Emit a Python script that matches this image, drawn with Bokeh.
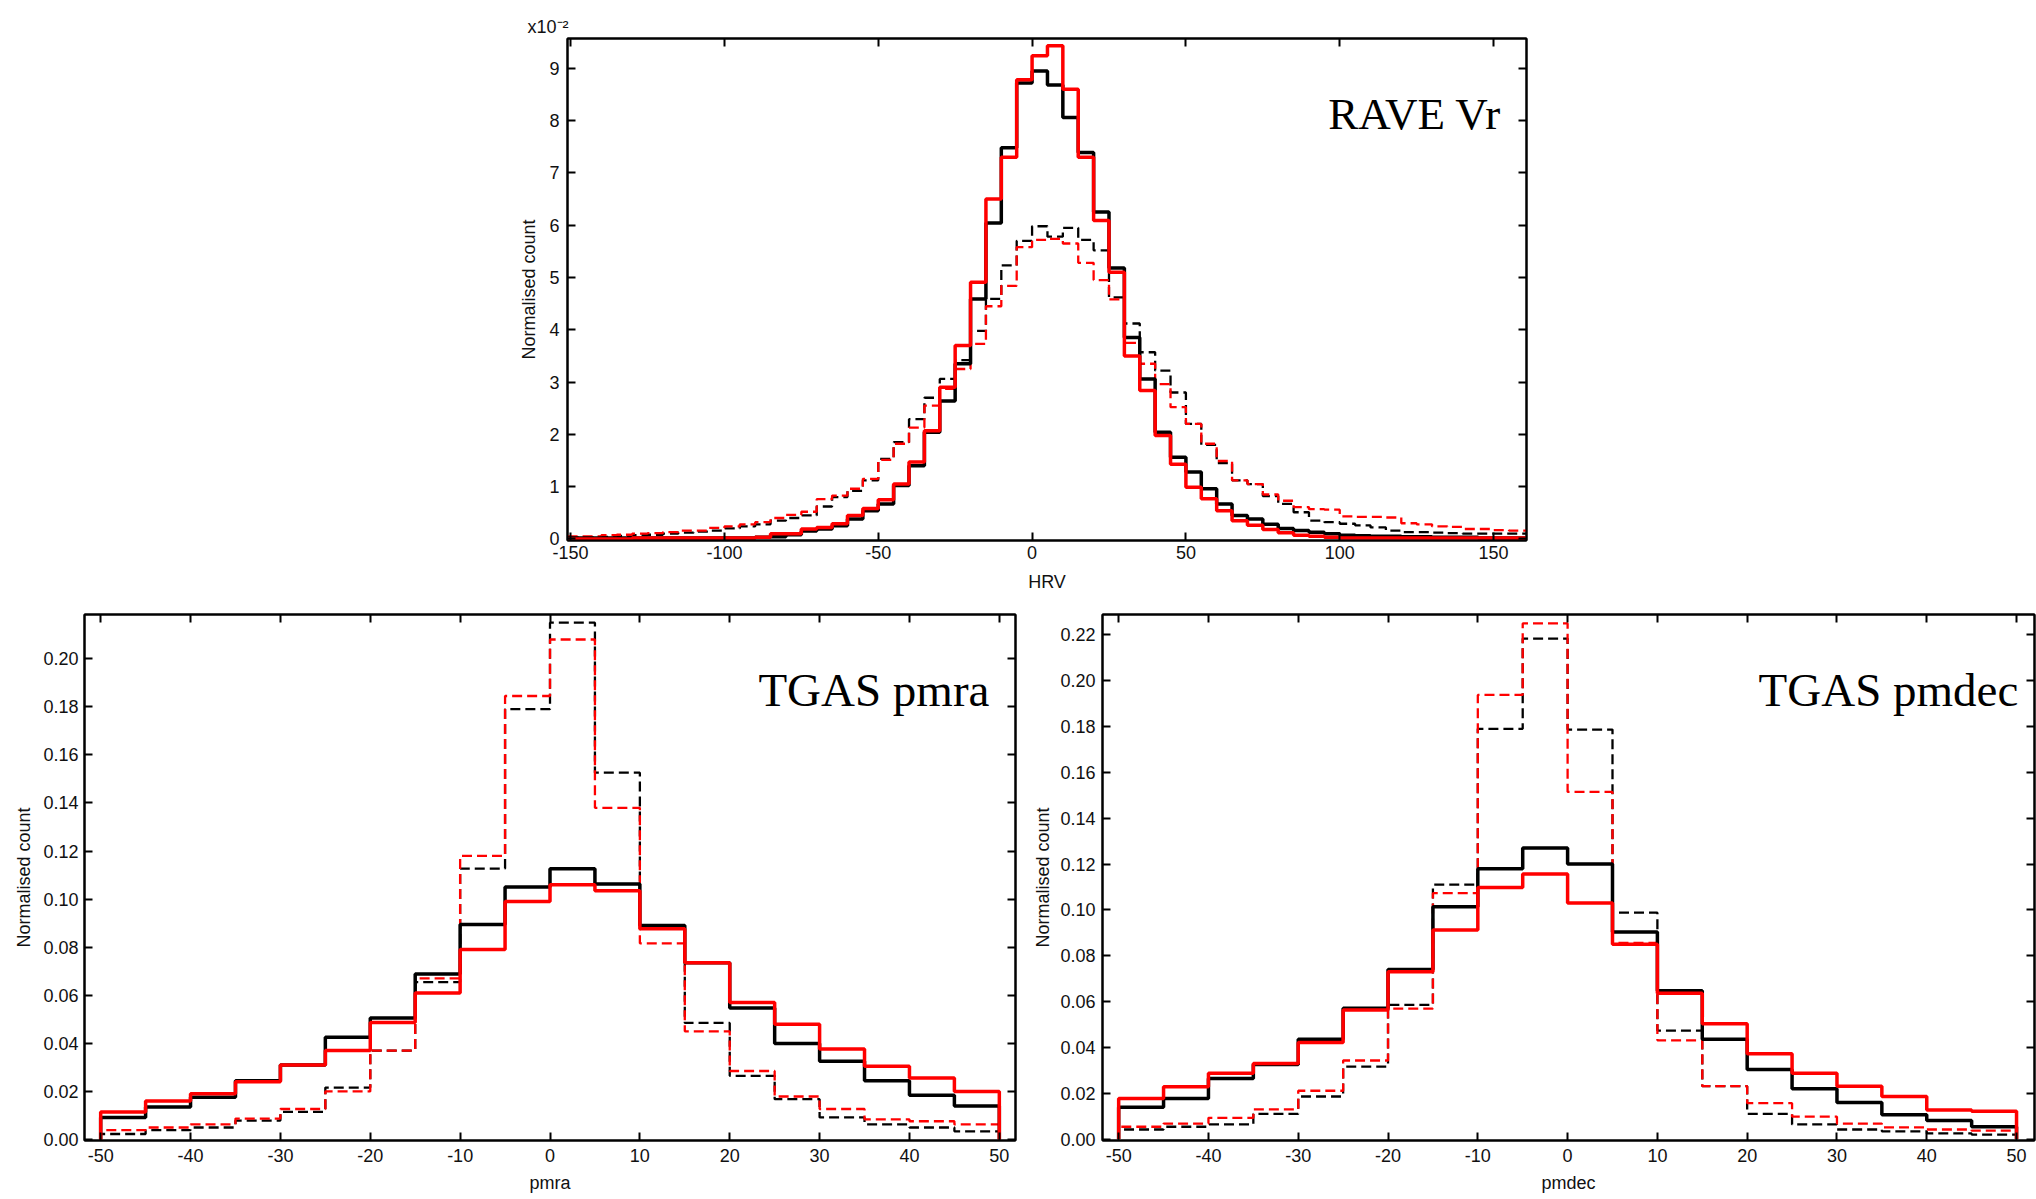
from bokeh.plotting import figure
from bokeh.models import Range1d, LinearAxis, FixedTicker, NumeralTickFormatter, Label
from bokeh.layouts import column, row
from bokeh.embed import file_html
from bokeh.resources import INLINE

# ---------------- data ----------------
# RAVE Vr (HRV) histogram, bin left edges -155 .. 160 (width 5), values in units of 1e-2
hrv_edges = list(range(-155, 170, 5))
hrv_black_solid = [0.02, 0.02, 0.02, 0.02, 0.02, 0.02, 0.02, 0.02,
                   0.02, 0.02, 0.02, 0.02, 0.02, 0.03, 0.04, 0.08,
                   0.15, 0.19, 0.25, 0.38, 0.54, 0.67, 1.02, 1.40,
                   2.04, 2.64, 3.35, 4.59, 6.04, 7.48, 8.72, 8.95,
                   8.68, 8.06, 7.39, 6.25, 5.18, 3.85, 3.06, 2.04,
                   1.56, 1.28, 0.96, 0.67, 0.45, 0.38, 0.28, 0.20,
                   0.16, 0.13, 0.10, 0.07, 0.06, 0.05, 0.05, 0.04,
                   0.04, 0.03, 0.03, 0.03, 0.02, 0.02, 0.02, 0.02]
hrv_red_solid = [0.0, 0.0, 0.0, 0.0, 0.0, 0.02, 0.02, 0.02,
                 0.02, 0.02, 0.02, 0.02, 0.02, 0.03, 0.10, 0.10,
                 0.19, 0.22, 0.29, 0.45, 0.58, 0.75, 1.05, 1.47,
                 2.07, 2.90, 3.70, 4.91, 6.50, 7.30, 8.78, 9.24,
                 9.43, 8.60, 7.30, 6.09, 5.10, 3.50, 2.84, 1.98,
                 1.43, 0.99, 0.77, 0.54, 0.35, 0.26, 0.18, 0.12,
                 0.07, 0.05, 0.03, 0.02, 0.02, 0.02, 0.02, 0.02,
                 0.02, 0.02, 0.02, 0.02, 0.02, 0.02, 0.02, 0.02]
hrv_black_dashed = [0.03, 0.03, 0.03, 0.04, 0.06, 0.07, 0.08, 0.10,
                    0.12, 0.14, 0.16, 0.20, 0.24, 0.28, 0.35, 0.40,
                    0.45, 0.62, 0.80, 0.92, 1.12, 1.53, 1.85, 2.29,
                    2.70, 3.06, 3.42, 3.98, 4.59, 5.23, 5.70, 5.98,
                    5.78, 5.95, 5.72, 5.52, 4.62, 4.12, 3.57, 3.22,
                    2.80, 2.20, 1.80, 1.45, 1.12, 1.05, 0.82, 0.67,
                    0.51, 0.35, 0.32, 0.29, 0.26, 0.22, 0.16, 0.13,
                    0.13, 0.12, 0.11, 0.10, 0.10, 0.10, 0.10, 0.10]
hrv_red_dashed = [0.05, 0.05, 0.05, 0.07, 0.08, 0.10, 0.11, 0.13,
                  0.16, 0.16, 0.21, 0.24, 0.28, 0.32, 0.40, 0.46,
                  0.52, 0.76, 0.83, 0.96, 1.15, 1.51, 1.82, 2.13,
                  2.55, 2.87, 3.25, 3.73, 4.45, 4.84, 5.58, 5.72,
                  5.74, 5.65, 5.28, 4.95, 4.58, 3.75, 3.35, 2.96,
                  2.52, 2.20, 1.82, 1.49, 1.12, 1.05, 0.85, 0.73,
                  0.61, 0.57, 0.56, 0.43, 0.42, 0.42, 0.41, 0.30,
                  0.28, 0.24, 0.23, 0.19, 0.19, 0.17, 0.16, 0.16]

# TGAS proper motions, bin edges -50 .. 50 (width 5)
pm_edges = list(range(-50, 55, 5))
pmra_black_solid = [0.0092, 0.0135, 0.0176, 0.0245, 0.0310, 0.0426, 0.0506, 0.0689, 0.0894, 0.1050,
                    0.1126, 0.1063, 0.0890, 0.0735, 0.0547, 0.0400, 0.0326, 0.0245, 0.0184, 0.0139]
pmra_red_solid = [0.0115, 0.0160, 0.0190, 0.0240, 0.0310, 0.0370, 0.0487, 0.0610, 0.0790, 0.0990,
                  0.1060, 0.1035, 0.0877, 0.0735, 0.0570, 0.0480, 0.0377, 0.0305, 0.0256, 0.0200]
pmra_black_dashed = [0.0023, 0.0039, 0.0050, 0.0079, 0.0115, 0.0216, 0.0370, 0.0655, 0.1127, 0.1790,
                     0.2150, 0.1526, 0.0890, 0.0485, 0.0265, 0.0168, 0.0092, 0.0063, 0.0050, 0.0034]
pmra_red_dashed = [0.0039, 0.0050, 0.0063, 0.0087, 0.0127, 0.0200, 0.0370, 0.0670, 0.1180, 0.1845,
                   0.2080, 0.1380, 0.0816, 0.0450, 0.0285, 0.0179, 0.0127, 0.0084, 0.0076, 0.0063]

pmdec_black_solid = [0.0139, 0.0177, 0.0265, 0.0326, 0.0436, 0.0571, 0.0740, 0.1014, 0.1180, 0.1270,
                     0.1200, 0.0904, 0.0647, 0.0436, 0.0304, 0.0220, 0.0160, 0.0106, 0.0081, 0.0054]
pmdec_red_solid = [0.0177, 0.0228, 0.0287, 0.0330, 0.0422, 0.0563, 0.0730, 0.0912, 0.1098, 0.1157,
                   0.1030, 0.0850, 0.0637, 0.0503, 0.0372, 0.0287, 0.0231, 0.0186, 0.0127, 0.0122]
pmdec_black_dashed = [0.0042, 0.0054, 0.0064, 0.0110, 0.0186, 0.0316, 0.0586, 0.1110, 0.1790, 0.2184,
                      0.1787, 0.0988, 0.0473, 0.0231, 0.0110, 0.0064, 0.0042, 0.0034, 0.0025, 0.0020]
pmdec_red_dashed = [0.0054, 0.0068, 0.0093, 0.0130, 0.0211, 0.0343, 0.0569, 0.1073, 0.1938, 0.2250,
                    0.1515, 0.0856, 0.0431, 0.0231, 0.0157, 0.0098, 0.0068, 0.0051, 0.0042, 0.0037]

hrv_xticks = [-150, -100, -50, 0, 50, 100, 150]
hrv_yticks = [0, 1, 2, 3, 4, 5, 6, 7, 8, 9]
pm_xticks = [-50, -40, -30, -20, -10, 0, 10, 20, 30, 40, 50]
pmra_yticks = [0.0, 0.02, 0.04, 0.06, 0.08, 0.10, 0.12, 0.14, 0.16, 0.18, 0.20]
pmdec_yticks = [0.0, 0.02, 0.04, 0.06, 0.08, 0.10, 0.12, 0.14, 0.16, 0.18, 0.20, 0.22]

SANS = "Liberation Sans"
SERIF = "Liberation Serif"
TXT = "#111111"


def make_fig(xr, yr, fw, fh, bl, br, bt, bb):
    p = figure(x_range=Range1d(*xr), y_range=Range1d(*yr),
               frame_width=fw, frame_height=fh,
               min_border_left=bl, min_border_right=br,
               min_border_top=bt, min_border_bottom=bb,
               output_backend="svg", toolbar_location=None,
               background_fill_color="white", border_fill_color="white")
    p.xgrid.visible = False
    p.ygrid.visible = False
    p.outline_line_color = "black"
    p.outline_line_width = 2
    return p


def style_axes(p, xticks, yticks, yfmt, xlabel, ylabel, fs, xstand, ystand, xlstand, ylstand):
    for ax in (p.xaxis[0], p.yaxis[0]):
        ax.axis_line_color = "black"
        ax.axis_line_width = 2
        ax.major_tick_in = 8
        ax.major_tick_out = 0
        ax.major_tick_line_width = 2
        ax.minor_tick_line_color = None
        ax.major_label_text_font = SANS
        ax.major_label_text_font_size = fs
        ax.major_label_text_color = TXT
        ax.axis_label_text_font = SANS
        ax.axis_label_text_font_size = fs
        ax.axis_label_text_font_style = "normal"
        ax.axis_label_text_color = TXT
    p.xaxis[0].ticker = FixedTicker(ticks=xticks)
    p.yaxis[0].ticker = FixedTicker(ticks=yticks)
    p.xaxis[0].formatter = NumeralTickFormatter(format="0")
    p.yaxis[0].formatter = NumeralTickFormatter(format=yfmt)
    p.xaxis[0].axis_label = xlabel
    p.yaxis[0].axis_label = ylabel
    p.xaxis[0].major_label_standoff = xstand
    p.yaxis[0].major_label_standoff = ystand
    p.xaxis[0].axis_label_standoff = xlstand
    p.yaxis[0].axis_label_standoff = ylstand
    # mirrored ticks (no labels) on top and right
    for loc, ticks in (("above", xticks), ("right", yticks)):
        ax = LinearAxis(ticker=FixedTicker(ticks=ticks),
                        major_label_text_font_size="0px", major_label_text_color=None,
                        major_label_standoff=0,
                        major_tick_in=8, major_tick_out=0, major_tick_line_width=2,
                        minor_tick_line_color=None, axis_line_color="black", axis_line_width=2)
        p.add_layout(ax, loc)


def hist(p, edges, vals, color, width, dash="solid"):
    xs = [edges[0]] + list(edges)
    ys = [0] + list(vals) + [0]
    p.step(xs, ys, mode="after", line_color=color, line_width=width, line_dash=dash)


SOLID_W = 3.5
DASH_W = 2.3
DASH = "10 5"

# ---------------- top: RAVE Vr ----------------
top = make_fig((-151, 160.7), (-0.03, 9.57), 959, 502, 567, 510, 38, 62)
style_axes(top, hrv_xticks, hrv_yticks, "0", "HRV", "Normalised count", "18px", 5, 8, 10, 7)
top.title.text = "x10⁻²"
top.title.align = "left"
top.title.offset = -40
top.title.standoff = 4
top.title.text_font = SANS
top.title.text_font_size = "18px"
top.title.text_font_style = "normal"
top.title.text_color = TXT
hist(top, hrv_edges, hrv_black_dashed, "black", DASH_W, DASH)
hist(top, hrv_edges, hrv_red_dashed, "red", DASH_W, DASH)
hist(top, hrv_edges, hrv_black_solid, "black", SOLID_W)
hist(top, hrv_edges, hrv_red_solid, "red", SOLID_W)
top.add_layout(Label(x=152.4, y=8.13, text="RAVE Vr", text_align="right", text_baseline="alphabetic",
                     text_font=SERIF, text_font_size="45px", text_color="black"))

# ---------------- bottom left: TGAS pmra ----------------
bl = make_fig((-51.8, 51.8), (-0.0004, 0.2184), 931, 526, 84, 10, 12, 61)
style_axes(bl, pm_xticks, pmra_yticks, "0.00", "pmra", "Normalised count", "18px", 8, 6, 8, 6)
hist(bl, pm_edges, pmra_black_dashed, "black", DASH_W, DASH)
hist(bl, pm_edges, pmra_red_dashed, "red", DASH_W, DASH)
hist(bl, pm_edges, pmra_black_solid, "black", SOLID_W)
hist(bl, pm_edges, pmra_red_solid, "red", SOLID_W)
bl.add_layout(Label(x=48.9, y=0.1869, text="TGAS pmra", text_align="right", text_baseline="alphabetic",
                    text_font=SERIF, text_font_size="47px", text_color="black"))

# ---------------- bottom right: TGAS pmdec ----------------
br = make_fig((-51.8, 52.0), (-0.0006, 0.2289), 932, 526, 77, 2, 12, 61)
style_axes(br, pm_xticks, pmdec_yticks, "0.00", "pmdec", "Normalised count", "18px", 8, 7, 8, 4)
hist(br, pm_edges, pmdec_black_dashed, "black", DASH_W, DASH)
hist(br, pm_edges, pmdec_red_dashed, "red", DASH_W, DASH)
hist(br, pm_edges, pmdec_black_solid, "black", SOLID_W)
hist(br, pm_edges, pmdec_red_solid, "red", SOLID_W)
br.add_layout(Label(x=50.2, y=0.196, text="TGAS pmdec", text_align="right", text_baseline="alphabetic",
                    text_font=SERIF, text_font_size="47px", text_color="black"))

layout = column(top, row(bl, br, spacing=0), spacing=0)

open("out.html", "w").write(file_html(layout, INLINE))
